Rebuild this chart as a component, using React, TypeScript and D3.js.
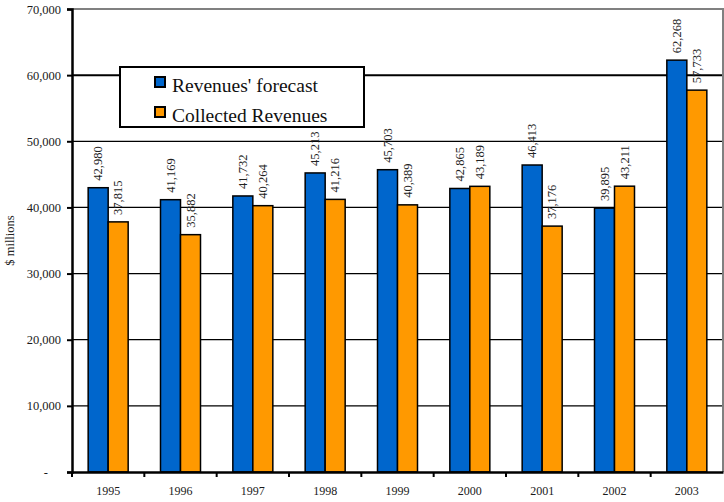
import { useEffect, useRef } from 'react';
import * as d3 from 'd3';

const years = ['1995', '1996', '1997', '1998', '1999', '2000', '2001', '2002', '2003'];
const forecast = [42980, 41169, 41732, 45213, 45703, 42865, 46413, 39895, 62268];
const collected = [37815, 35882, 40264, 41216, 40389, 43189, 37176, 43211, 57733];
const seriesNames = ["Revenues' forecast", 'Collected Revenues'];
const seriesColors = ['#0066cc', '#ff9900'];
const yTicks = [0, 10000, 20000, 30000, 40000, 50000, 60000, 70000];

export default function App() {
	const svgRef = useRef<SVGSVGElement>(null);

	useEffect(() => {
		if (!svgRef.current) return;
		const width = 724;
		const height = 502;
		const margin = { top: 9, right: 1, bottom: 30, left: 72 };
		const serif = '"Liberation Serif", "Times New Roman", serif';

		const svg = d3.select(svgRef.current);
		svg.selectAll('*').remove();

		const x0 = d3
			.scaleBand<string>()
			.domain(years)
			.range([margin.left, width - margin.right]);
		const groupW = 40;
		const x1 = d3
			.scaleBand<number>()
			.domain([0, 1])
			.range([0, groupW]);
		const y = d3
			.scaleLinear()
			.domain([0, 70000])
			.range([height - margin.bottom, margin.top]);

		const fmt = d3.format(',');

		// grid lines
		svg
			.append('g')
			.selectAll('line')
			.data(yTicks.filter((t) => t > 0 && t < 70000))
			.join('line')
			.attr('x1', margin.left)
			.attr('x2', width - margin.right)
			.attr('y1', (d) => y(d))
			.attr('y2', (d) => y(d))
			.attr('stroke', '#000')
			.attr('stroke-width', (d) => (d === 60000 ? 2 : 1.2));

		// plot border top / right (gray)
		svg
			.append('path')
			.attr(
				'd',
				`M${margin.left},${y(70000)}H${width - margin.right}V${y(0)}`,
			)
			.attr('fill', 'none')
			.attr('stroke', '#808080')
			.attr('stroke-width', 2);

		// bars
		const data = years.map((yr, i) => ({ yr, vals: [forecast[i], collected[i]] }));
		const groups = svg
			.append('g')
			.selectAll('g')
			.data(data)
			.join('g')
			.attr(
				'transform',
				(d) => `translate(${x0(d.yr)! + (x0.bandwidth() - groupW) / 2},0)`,
			);

		groups
			.selectAll('rect')
			.data((d) => d.vals.map((v, s) => ({ v, s })))
			.join('rect')
			.attr('x', (d) => x1(d.s)!)
			.attr('width', x1.bandwidth())
			.attr('y', (d) => y(d.v))
			.attr('height', (d) => y(0) - y(d.v))
			.attr('fill', (d) => seriesColors[d.s])
			.attr('stroke', '#000')
			.attr('stroke-width', 1.5);

		groups
			.selectAll('text')
			.data((d) => d.vals.map((v, s) => ({ v, s })))
			.join('text')
			.attr(
				'transform',
				(d) =>
					`translate(${x1(d.s)! + x1.bandwidth() / 2 + 4},${y(d.v) - 7}) rotate(-90)`,
			)
			.attr('font-family', serif)
			.attr('font-size', 12.5)
			.attr('fill', '#222')
			.text((d) => fmt(d.v));

		// axes
		const yAxis = svg
			.append('g')
			.attr('transform', `translate(${margin.left},0)`)
			.call(
				d3
					.axisLeft(y)
					.tickValues(yTicks)
					.tickSize(5)
					.tickPadding(6)
					.tickFormat((d) => (+d === 0 ? '-' : fmt(+d))),
			);
		yAxis.select('.domain').attr('stroke', '#000').attr('stroke-width', 2.5);
		yAxis.selectAll('.tick line').attr('stroke', '#000').attr('stroke-width', 2);
		yAxis
			.selectAll('.tick text')
			.attr('font-family', serif)
			.attr('font-size', 12.5)
			.attr('fill', '#1a1a1a');
		yAxis
			.selectAll('.tick')
			.filter((d) => d === 0)
			.select('text')
			.attr('x', -24);

		const xAxis = svg
			.append('g')
			.attr('transform', `translate(0,${y(0)})`)
			.call(d3.axisBottom(x0).tickSize(0).tickPadding(14));
		xAxis.select('.domain').attr('stroke', '#000').attr('stroke-width', 2.5);
		xAxis
			.selectAll('.tick text')
			.attr('font-family', serif)
			.attr('font-size', 12)
			.attr('fill', '#1a1a1a');
		xAxis
			.append('g')
			.selectAll('line')
			.data(years)
			.join('line')
			.attr('x1', (d) => x0(d)!)
			.attr('x2', (d) => x0(d)!)
			.attr('y1', 0)
			.attr('y2', 5)
			.attr('stroke', '#000')
			.attr('stroke-width', 2);

		// y label
		svg
			.append('text')
			.attr('transform', `translate(14,${(margin.top + y(0)) / 2}) rotate(-90)`)
			.attr('text-anchor', 'middle')
			.attr('font-family', serif)
			.attr('font-size', 12.5)
			.attr('fill', '#222')
			.text('$ millions');

		// legend
		const legend = svg.append('g').attr('transform', 'translate(120,67)');
		legend
			.append('rect')
			.attr('width', 244)
			.attr('height', 60)
			.attr('fill', '#fff')
			.attr('stroke', '#000')
			.attr('stroke-width', 2);
		seriesNames.forEach((name, i) => {
			const row = legend
				.append('g')
				.attr('transform', `translate(35,${10 + i * 30})`);
			row
				.append('rect')
				.attr('width', 10)
				.attr('height', 10)
				.attr('fill', seriesColors[i])
				.attr('stroke', '#000')
				.attr('stroke-width', 2);
			row
				.append('text')
				.attr('x', 17)
				.attr('y', 15)
				.attr('font-family', serif)
				.attr('font-size', 19.5)
				.attr('fill', '#111')
				.text(name);
		});
	}, []);

	return (
		<svg
			ref={svgRef}
			width={724}
			height={502}
			style={{ position: 'absolute', left: 0, top: 0, background: '#fff' }}
		/>
	);
}
